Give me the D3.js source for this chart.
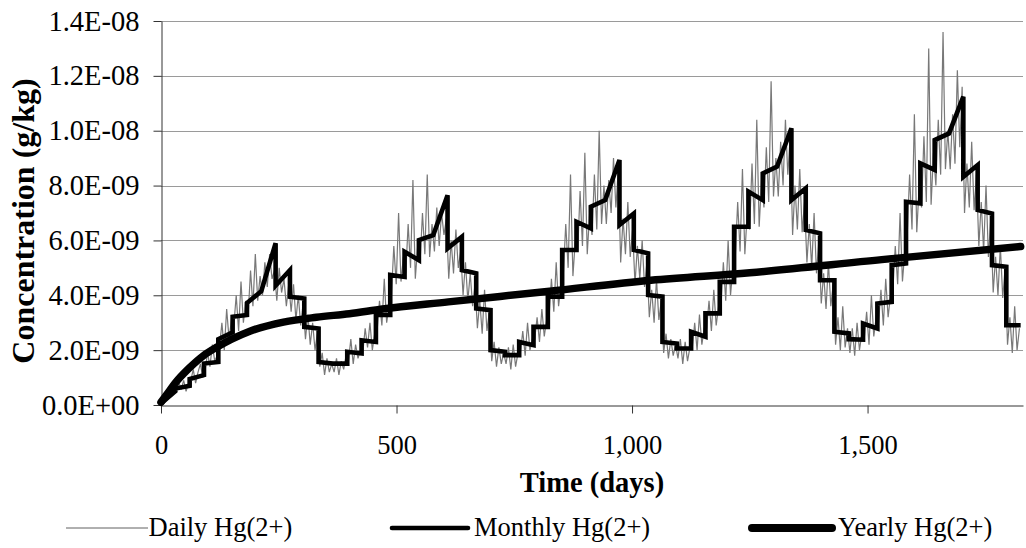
<!DOCTYPE html>
<html>
<head>
<meta charset="utf-8">
<script src="https://cdn.jsdelivr.net/npm/d3@7"></script>
<style>
  body { margin: 0; background: #fff; }
  text { font-family: "Liberation Serif", "Times New Roman", serif; }
</style>
</head>
<body>
<div id="viz"></div>
<script>
const width = 1026;
const height = 548;
const margin = {top: 21, right: 3, bottom: 143, left: 161};

// values in 1E-09 g/kg
const yTicks = [0, 2, 4, 6, 8, 10, 12, 14];
const yTickLabels = ['0.0E+00', '2.0E-09', '4.0E-09', '6.0E-09', '8.0E-09', '1.0E-08', '1.2E-08', '1.4E-08'];
const xTicks = [0, 500, 1000, 1500];
const xTickLabels = ['0', '500', '1,000', '1,500'];
const seriesNames = ['Daily Hg(2+)', 'Monthly Hg(2+)', 'Yearly Hg(2+)'];

// monthly: value at start and end of each of the 60 months
const monthlyStart = [
  0.05, 0.6, 0.95, 1.51, 2.4, 3.22, 3.72, 4.15, 4.35, 3.95, 2.85, 1.57,
  1.51, 1.94, 2.36, 3.28, 4.74, 5.59, 6.01, 6.19, 5.71, 4.92, 3.52, 2.0,
  1.82, 2.3, 2.85, 3.95, 5.65, 6.68, 7.23, 7.47, 6.56, 5.65, 4.01, 2.3,
  2.06, 2.67, 3.34, 4.49, 6.5, 7.78, 8.44, 8.69, 7.47, 6.38, 4.55, 2.67,
  2.4, 2.97, 3.7, 5.1, 7.41, 8.81, 9.66, 9.9, 8.32, 7.11, 5.1, 2.91
];
const monthlyEnd = [
  0.5, 0.7, 1.09, 1.57, 2.65, 3.28, 4.15, 5.9, 4.92, 3.88, 2.79, 1.51,
  1.51, 1.88, 2.3, 3.28, 4.67, 5.28, 6.19, 7.65, 6.13, 4.8, 3.46, 1.94,
  1.82, 2.18, 2.85, 3.95, 5.65, 6.44, 7.47, 8.93, 6.98, 5.53, 3.95, 2.24,
  2.06, 2.49, 3.34, 4.49, 6.5, 7.47, 8.69, 10.09, 7.9, 6.26, 4.55, 2.61,
  2.38, 2.79, 3.76, 5.16, 7.35, 8.57, 9.9, 11.24, 8.75, 6.98, 5.04, 2.91
];

const yearlyDays = [0, 15, 30, 60, 90, 120, 150, 190, 260, 330, 400, 470, 610, 825, 1040, 1250, 1530, 1825];
const yearlyValues = [0.1, 0.45, 0.8, 1.35, 1.8, 2.12, 2.4, 2.7, 3.02, 3.2, 3.33, 3.5, 3.76, 4.15, 4.55, 4.82, 5.3, 5.78];

// daily, six readings per month
const daily = [
  0.1,0.3,0.2,0.5,0.4,0.7, 0.5,0.8,0.6,0.9,0.5,0.8, 0.9,1.3,0.8,1.2,1.5,1.0,
  1.3,1.9,1.4,2.2,1.6,1.8, 2.1,3.0,2.0,3.5,2.4,3.1, 2.9,4.0,2.7,4.5,3.0,3.8,
  3.3,4.9,3.6,5.5,3.8,4.7, 4.0,5.2,4.3,5.5,4.6,4.9, 3.8,5.0,4.1,4.6,3.6,4.4,
  3.4,4.4,3.1,4.0,2.9,3.7, 2.4,3.3,2.2,3.0,2.0,2.6, 1.4,1.9,1.1,1.7,1.2,1.5,

  1.2,1.7,1.1,1.6,1.3,1.8, 1.6,2.4,1.5,2.2,1.7,2.0, 1.9,2.8,2.1,3.0,2.0,2.6,
  2.7,3.8,2.9,4.6,3.0,3.6, 4.0,5.8,4.4,7.0,4.5,5.4, 4.8,6.6,5.0,8.2,4.6,5.8,
  5.2,7.0,5.5,8.4,5.4,6.6, 5.6,7.2,5.8,7.0,6.2,6.8, 4.6,6.0,4.8,6.4,5.0,5.6,
  4.0,5.2,3.8,4.8,3.6,4.4, 2.8,3.8,2.6,4.2,2.7,3.4, 1.6,2.3,1.4,2.1,1.5,1.9,

  1.5,2.1,1.3,2.2,1.4,1.9, 1.9,2.7,1.8,3.0,2.0,2.4, 2.4,3.2,2.3,3.5,2.5,3.1,
  3.2,4.6,3.4,5.2,3.6,4.4, 4.8,6.6,5.0,8.4,4.7,6.0, 5.6,7.8,5.8,9.2,5.5,7.0,
  6.2,8.4,6.4,10.0,6.6,8.0, 6.6,8.2,7.0,9.0,7.2,8.6, 5.2,6.8,5.5,7.4,5.4,6.4,
  4.4,5.8,4.6,6.0,4.3,5.2, 3.2,4.2,3.0,4.6,3.1,3.8, 1.9,2.6,1.7,2.4,1.8,2.2,

  1.7,2.4,1.5,2.3,1.6,2.1, 2.1,3.0,2.0,3.3,2.2,2.8, 2.8,3.8,2.7,4.2,2.9,3.6,
  3.6,5.2,3.8,6.0,4.0,5.0, 5.4,7.4,5.6,8.6,5.5,7.0, 6.4,8.8,6.6,10.4,6.5,8.2,
  7.2,9.4,7.4,11.8,7.6,9.0, 7.6,9.6,8.0,10.4,8.4,9.8, 6.2,8.0,6.4,8.6,6.3,7.4,
  5.2,6.6,5.0,7.0,4.8,6.0, 3.7,4.8,3.5,5.2,3.6,4.4, 2.2,3.2,2.0,3.6,2.1,2.8,

  1.9,2.8,1.8,3.0,2.0,2.6, 2.4,3.4,2.2,4.0,2.5,3.2, 3.0,4.2,2.9,4.6,3.2,4.0,
  4.2,5.8,4.4,7.0,4.5,5.6, 6.2,8.4,6.4,10.6,6.3,8.0, 7.2,9.8,7.4,13.0,7.3,9.2,
  8.0,10.4,8.4,13.6,8.6,10.0, 8.6,10.6,8.8,12.2,9.4,11.6, 7.0,8.8,7.2,9.6,7.1,8.4,
  5.8,7.4,5.6,8.0,5.4,6.8, 4.1,5.4,4.0,5.8,3.9,5.0, 2.2,3.2,1.9,3.6,2.0,2.8
];

const totalDays = 1825;
const monthLen = totalDays / monthlyStart.length;
const dailyStep = totalDays / daily.length;

const svg = d3.select('#viz')
  .append('svg')
    .attr('width', width)
    .attr('height', height)
    .style('background', '#fff');

const xScale = d3.scaleLinear()
  .domain([0, 1830])
  .range([margin.left, width - margin.right]);
const yScale = d3.scaleLinear()
  .domain([0, 14])
  .range([height - margin.bottom, margin.top]);

// gridlines
svg.append('g')
  .selectAll('line')
  .data(yTicks.filter(d => d > 0))
  .join('line')
    .attr('x1', margin.left)
    .attr('x2', width - margin.right)
    .attr('y1', d => Math.round(yScale(d)) + 0.5)
    .attr('y2', d => Math.round(yScale(d)) + 0.5)
    .attr('stroke', '#9a9a9a')
    .attr('stroke-width', 1);

// y axis
const yAxis = d3.axisLeft(yScale)
  .tickValues(yTicks)
  .tickFormat((d, i) => yTickLabels[i])
  .tickSize(8)
  .tickPadding(14)
  .tickSizeOuter(0);
const yAxisGroup = svg.append('g')
  .attr('transform', `translate(${margin.left + 0.5}, 0)`)
  .call(yAxis);
yAxisGroup.selectAll('text')
  .style('font-size', '28.5px')
  .attr('fill', '#000');

// x axis
const xAxis = d3.axisBottom(xScale)
  .tickValues(xTicks)
  .tickFormat((d, i) => xTickLabels[i])
  .tickSize(8)
  .tickPadding(22)
  .tickSizeOuter(0);
const xAxisGroup = svg.append('g')
  .attr('transform', `translate(0, ${height - margin.bottom + 0.5})`)
  .call(xAxis);
xAxisGroup.selectAll('text')
  .style('font-size', '26.5px')
  .attr('fill', '#000');

svg.selectAll('.domain, .tick line')
  .attr('stroke', '#333');

// axis titles
svg.append('text')
  .attr('x', (margin.left + width - margin.right) / 2)
  .attr('y', 492)
  .attr('text-anchor', 'middle')
  .style('font-size', '28.5px')
  .style('font-weight', 700)
  .text('Time (days)');

svg.append('text')
  .attr('transform', 'translate(23, 221) rotate(-90)')
  .attr('text-anchor', 'middle')
  .attr('dy', '0.35em')
  .style('font-size', '32px')
  .style('font-weight', 700)
  .text('Concentration (g/kg)');

// daily series
const dailyLine = d3.line()
  .x((d, i) => xScale((i + 0.5) * dailyStep))
  .y(d => yScale(d));
svg.append('path')
  .attr('d', dailyLine(daily))
  .attr('fill', 'none')
  .attr('stroke', '#787878')
  .attr('stroke-width', 1.2);

// monthly series: each month drawn from its start to end value
const monthlyPoints = [];
monthlyStart.forEach((v, i) => {
  monthlyPoints.push([i * monthLen, v]);
  monthlyPoints.push([(i + 1) * monthLen, monthlyEnd[i]]);
});
const stepLine = d3.line()
  .x(d => xScale(d[0]))
  .y(d => yScale(d[1]));
svg.append('path')
  .attr('d', stepLine(monthlyPoints))
  .attr('fill', 'none')
  .attr('stroke', '#000')
  .attr('stroke-width', 4.6);

// yearly series
const yearlyLine = d3.line()
  .x((d, i) => xScale(yearlyDays[i]))
  .y(d => yScale(d))
  .curve(d3.curveMonotoneX);
svg.append('path')
  .attr('d', yearlyLine(yearlyValues))
  .attr('fill', 'none')
  .attr('stroke', '#000')
  .attr('stroke-width', 7.5)
  .attr('stroke-linecap', 'round');

// legend
const legendItems = [
  {x0: 66, x1: 148, w: 1, color: '#606060', cap: 'butt'},
  {x0: 392, x1: 468, w: 4.6, color: '#000', cap: 'round'},
  {x0: 752, x1: 832, w: 8, color: '#000', cap: 'round'}
];
const legendY = 528;
const legend = svg.append('g');
legendItems.forEach((item, i) => {
  legend.append('line')
    .attr('x1', item.x0)
    .attr('x2', item.x1)
    .attr('y1', legendY)
    .attr('y2', legendY)
    .attr('stroke', item.color)
    .attr('stroke-width', item.w)
    .attr('stroke-linecap', item.cap);
  legend.append('text')
    .attr('x', item.x1 + (i === 0 ? 0.5 : 6))
    .attr('y', legendY)
    .attr('dy', '0.3em')
    .style('font-size', '26.5px')
    .text(seriesNames[i]);
});
</script>
</body>
</html>
